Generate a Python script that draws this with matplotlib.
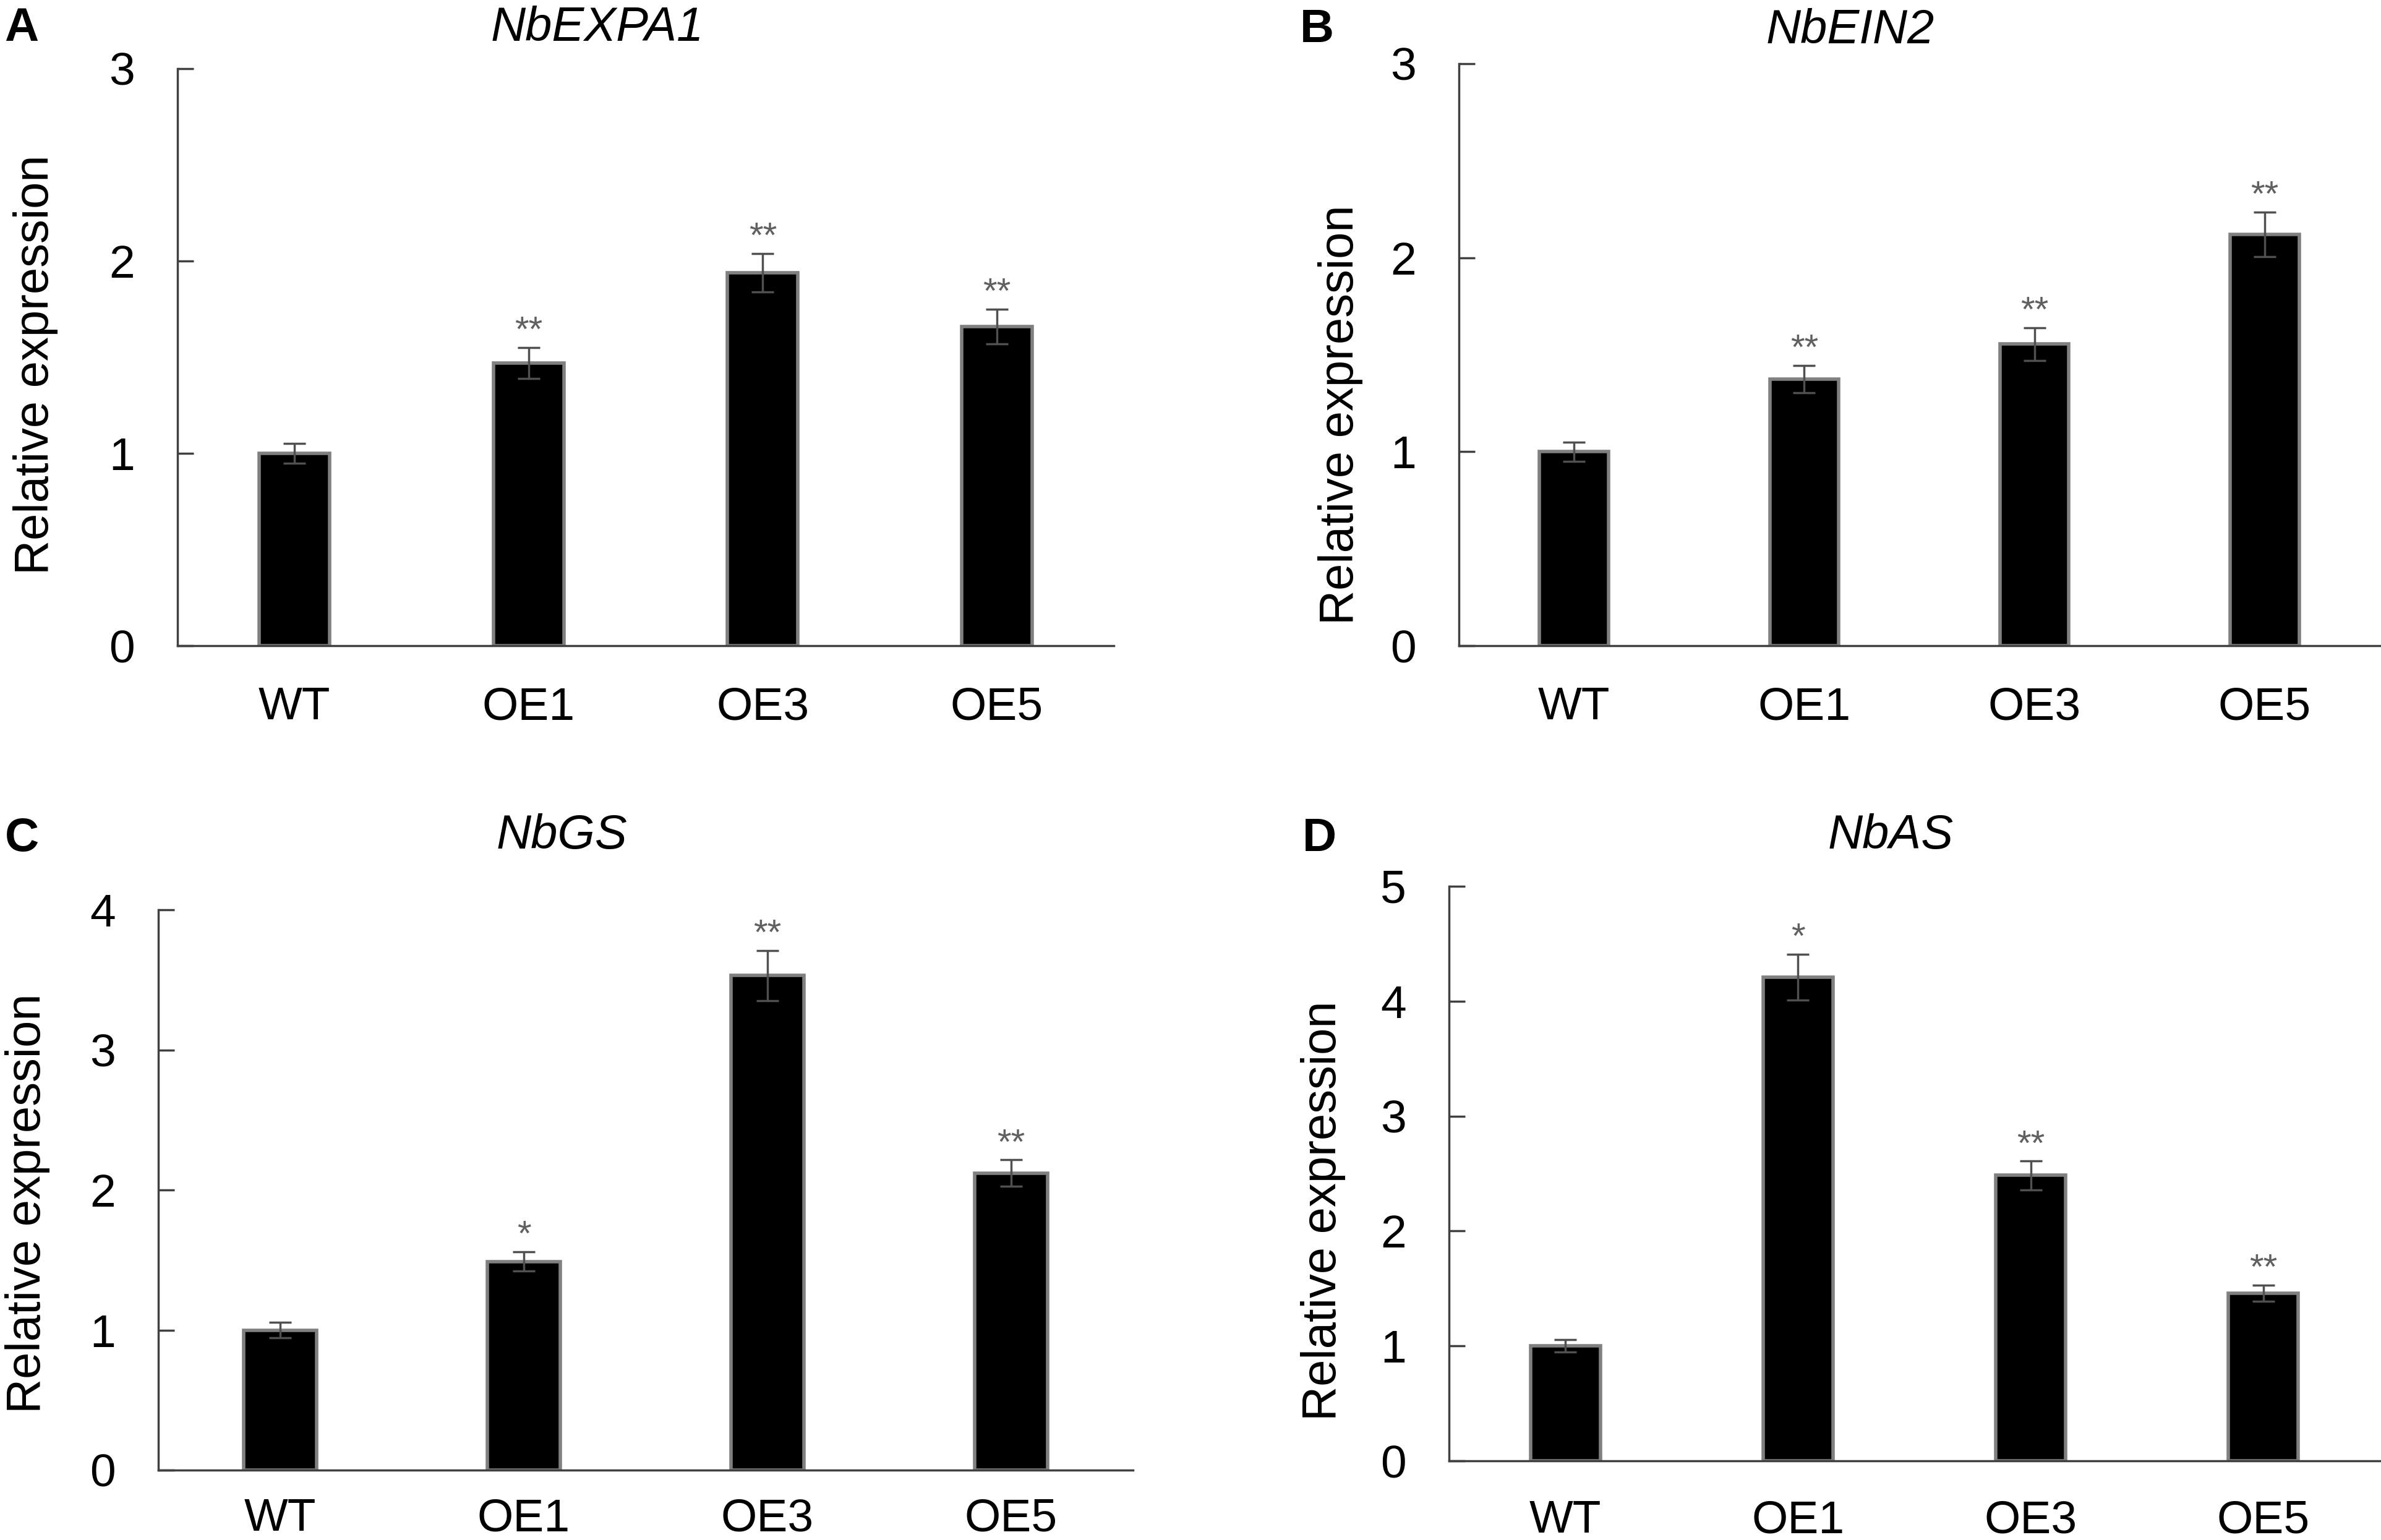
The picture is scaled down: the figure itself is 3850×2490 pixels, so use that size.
import matplotlib
matplotlib.use('Agg')
import matplotlib.pyplot as plt

plt.rcParams['font.family'] = ['Liberation Sans', 'DejaVu Sans']

lines = ['WT', 'OE1', 'OE3', 'OE5']

expa1_mean = [1.00, 1.47, 1.94, 1.66]
expa1_err = [0.05, 0.08, 0.10, 0.09]
expa1_sig = ['', '**', '**', '**']

ein2_mean = [1.00, 1.375, 1.555, 2.12]
ein2_err = [0.05, 0.07, 0.085, 0.115]
ein2_sig = ['', '**', '**', '**']

gs_mean = [1.00, 1.49, 3.53, 2.12]
gs_err = [0.055, 0.07, 0.18, 0.095]
gs_sig = ['', '*', '**', '**']

as_mean = [1.00, 4.21, 2.485, 1.46]
as_err = [0.055, 0.20, 0.125, 0.07]
as_sig = ['', '*', '**', '**']

W, H = 3850, 2490
fig = plt.figure(figsize=(W / 100, H / 100), dpi=100)


def px_rect(l, r, t, b):
    return [l / W, 1 - b / H, (r - l) / W, (b - t) / H]


def draw_panel(rect, means, errs, sigs, ymax, title, letter,
               title_xy, letter_xy, ylabel_xy, xpad=47):
    ax = fig.add_axes(rect)
    x = range(len(lines))
    ax.bar(x, means, width=0.3, color='black', edgecolor='#808080',
           linewidth=4, zorder=2)
    ax.errorbar(x, means, yerr=errs, fmt='none', ecolor='#505050',
                elinewidth=2.5, capsize=13, capthick=2.5, zorder=3)
    for xi, m, e, s in zip(x, means, errs, sigs):
        if s:
            ax.annotate(s, (xi, m + e), xytext=(0, 7), textcoords='offset points',
                        ha='center', va='baseline', fontsize=42, color='#606060')

    ax.set_xlim(-0.5, 3.5)
    ax.set_ylim(0, ymax)
    ax.set_yticks(range(0, ymax + 1))
    ax.set_xticks(list(x))
    ax.set_xticklabels(lines)
    ax.spines['top'].set_visible(False)
    ax.spines['right'].set_visible(False)
    for sp in ('left', 'bottom'):
        ax.spines[sp].set_color('#404040')
        ax.spines[sp].set_linewidth(2.5)
    ax.tick_params(axis='y', direction='in', length=19, width=2.5,
                   color='#404040', pad=50, labelsize=54)
    ax.tick_params(axis='x', length=0, pad=xpad, labelsize=54)

    fig.text(title_xy[0] / W, 1 - title_xy[1] / H, title, style='italic',
             fontsize=56, ha='center', va='baseline')
    fig.text(letter_xy[0] / W, 1 - letter_xy[1] / H, letter, fontweight='bold',
             fontsize=55, ha='left', va='baseline')
    fig.text(ylabel_xy[0] / W, 1 - ylabel_xy[1] / H, 'Relative expression',
             rotation=90, fontsize=56, ha='center', va='center')
    return ax


draw_panel(px_rect(287, 1801, 111, 1044), expa1_mean, expa1_err, expa1_sig, 3,
           'NbEXPA1', 'A', (966, 66), (7, 66), (58, 590))
draw_panel(px_rect(2359, 3848, 103, 1044), ein2_mean, ein2_err, ein2_sig, 3,
           'NbEIN2', 'B', (2992, 70), (2102, 68), (2168, 671))
draw_panel(px_rect(256, 1832, 1471, 2377), gs_mean, gs_err, gs_sig, 4,
           'NbGS', 'C', (908, 1372), (8, 1376), (45, 1946), xpad=32)
draw_panel(px_rect(2343, 3848, 1433, 2362), as_mean, as_err, as_sig, 5,
           'NbAS', 'D', (3057, 1372), (2106, 1376), (2140, 1958), xpad=45)

fig.savefig('out.png', dpi=100)
